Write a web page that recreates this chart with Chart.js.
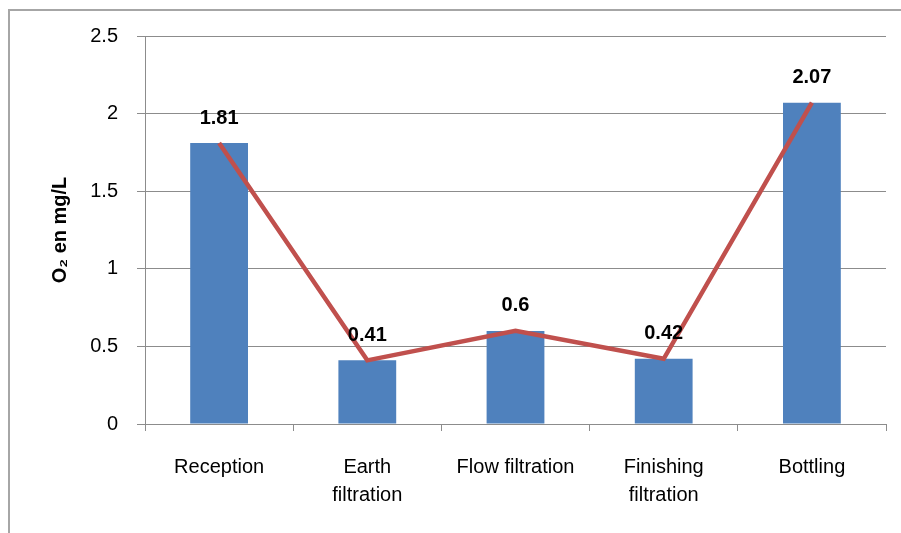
<!DOCTYPE html>
<html>
<head>
<meta charset="utf-8">
<script src="https://cdn.jsdelivr.net/npm/chart.js@4.4.1/dist/chart.umd.min.js"></script>
<style>
  html, body { margin: 0; padding: 0; background: #ffffff; }
  #wrap { width: 901px; height: 533px; position: relative; }
</style>
</head>
<body>
<div id="wrap"><canvas id="o2Chart" width="901" height="533"></canvas></div>
<script>
// data
const stages = ['Reception', ['Earth', 'filtration'], 'Flow filtration', ['Finishing', 'filtration'], 'Bottling'];
const o2Values = [1.81, 0.41, 0.6, 0.42, 2.07];
const yTicks = [0, 0.5, 1, 1.5, 2, 2.5];

const gridGray = '#8c8c8c';
const fontName = "'Liberation Sans', Arial, sans-serif";

// grey frame round the chart (left + top only are visible)
const framePlugin = {
  id: 'frame',
  beforeDraw(chart) {
    const ctx = chart.ctx;
    ctx.save();
    ctx.strokeStyle = '#a6a6a6';
    ctx.lineWidth = 2;
    ctx.beginPath();
    ctx.moveTo(9, 533);
    ctx.lineTo(9, 10);
    ctx.lineTo(901, 10);
    ctx.stroke();
    ctx.restore();
  }
};

// bold value labels above the bars
const valueLabels = {
  id: 'valueLabels',
  afterDatasetsDraw(chart) {
    const ctx = chart.ctx;
    const meta = chart.getDatasetMeta(1);
    ctx.save();
    ctx.font = 'bold 20px ' + fontName;
    ctx.fillStyle = '#000000';
    ctx.textAlign = 'center';
    ctx.textBaseline = 'middle';
    meta.data.forEach((bar, i) => {
      ctx.fillText(String(o2Values[i]), bar.x, bar.y - 25);
    });
    ctx.restore();
  }
};

Chart.defaults.font.family = fontName;
Chart.defaults.font.size = 20;
Chart.defaults.color = '#000000';

new Chart(document.getElementById('o2Chart'), {
  data: {
    labels: stages,
    datasets: [
      {
        type: 'line',
        data: o2Values,
        borderColor: '#c0504d',
        borderWidth: 4.5,
        pointRadius: 0,
        tension: 0,
        order: 0
      },
      {
        type: 'bar',
        data: o2Values,
        backgroundColor: '#4f81bd',
        barPercentage: 1,
        categoryPercentage: 0.39,
        order: 1
      }
    ]
  },
  options: {
    responsive: false,
    animation: false,
    layout: {
      padding: { left: 0, right: 15, top: 36, bottom: 0 }
    },
    plugins: {
      legend: { display: false },
      tooltip: { enabled: false }
    },
    scales: {
      x: {
        offset: true,
        grid: {
          offset: true,
          drawOnChartArea: false,
          color: gridGray,
          tickLength: 7
        },
        border: { color: gridGray, width: 1 },
        ticks: {
          padding: 22,
          maxRotation: 0,
          font: { size: 20, lineHeight: 1.42 }
        },
        afterFit(scale) { scale.height = 533 - 424; }
      },
      y: {
        min: 0,
        max: 2.5,
        afterBuildTicks(scale) {
          scale.ticks = yTicks.map(v => ({ value: v }));
        },
        grid: {
          color: gridGray,
          tickLength: 8
        },
        border: { color: gridGray, width: 1 },
        ticks: {
          padding: 19,
          font: { size: 20 },
          callback: value => String(value)
        },
        title: {
          display: true,
          text: 'O₂ en mg/L',
          font: { size: 20, weight: 'bold' },
          padding: { top: 48, bottom: 0 }
        },
        afterFit(scale) { scale.width = 145; }
      }
    }
  },
  plugins: [framePlugin, valueLabels]
});
</script>
</body>
</html>
